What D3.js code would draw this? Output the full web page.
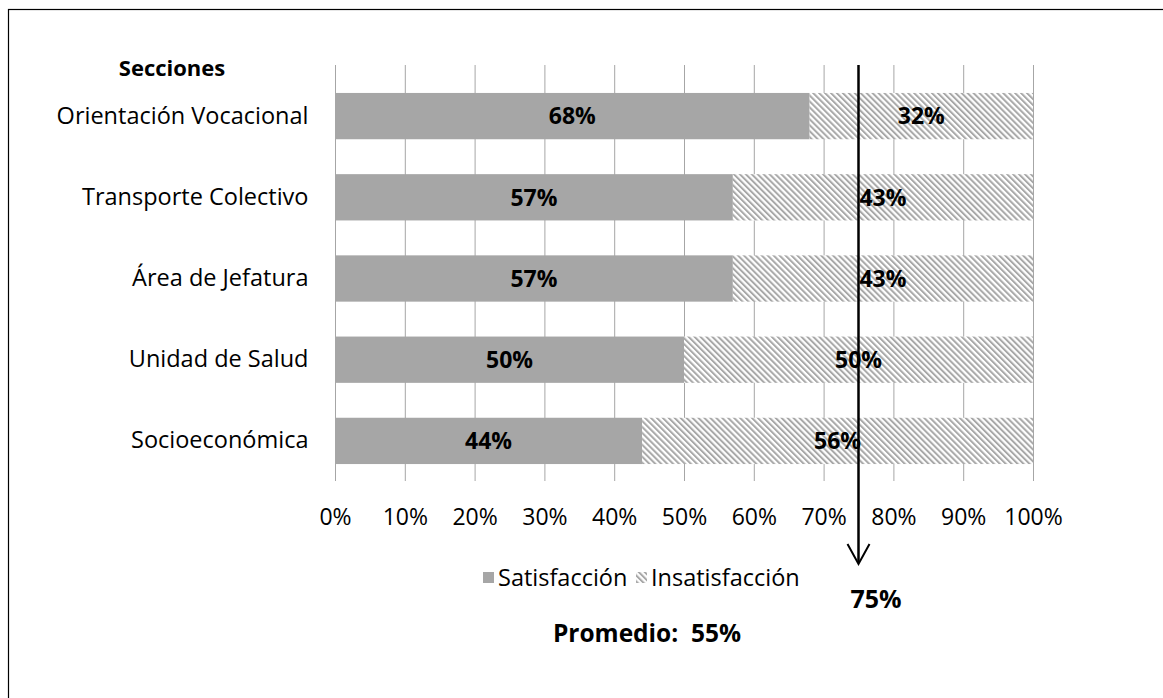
<!DOCTYPE html>
<html><head><meta charset="utf-8">
<script src="https://cdn.jsdelivr.net/npm/d3@7"></script>
<style>body{margin:0;background:#fff}svg{display:block}text{font-family:"Open Sans","Noto Sans",sans-serif;white-space:pre}</style>
</head><body>
<svg id="c" width="1163" height="698"></svg>
<script>
const categories = ["Orientación Vocacional","Transporte Colectivo","Área de Jefatura","Unidad de Salud","Socioeconómica"];
const satisfaccion = [68,57,57,50,44];
const insatisfaccion = [32,43,43,50,56];
const tickValues = [0,10,20,30,40,50,60,70,80,90,100];
const seriesNames = ["Satisfacción","Insatisfacción"];
const axisTitle = "Secciones";
const promedio = "Promedio:  55%";
const meta = 75;

const svg = d3.select("#c");
const defs = svg.append("defs");
const pat = defs.append("pattern").attr("id","hatch").attr("patternUnits","userSpaceOnUse")
  .attr("width",4.2).attr("height",4.2).attr("patternTransform","rotate(-45)");
pat.append("rect").attr("width",4.2).attr("height",4.2).attr("fill","#fff");
pat.append("rect").attr("x",0).attr("width",2).attr("height",4.2).attr("fill","#a8a8a8");

svg.append("rect").attr("x",8.5).attr("y",9.5).attr("width",1200).attr("height",720)
  .attr("fill","none").attr("stroke","#000").attr("stroke-width",1.2);

const x = d3.scaleLinear().domain([0,100]).range([335,1033]);
const y = d3.scaleBand().domain(categories).range([75.5,481.5]).paddingInner(0.43).paddingOuter(0.215);

// gridlines
svg.append("g").selectAll("line").data(tickValues).join("line")
  .attr("x1",d=>x(d)+0.5).attr("x2",d=>x(d)+0.5).attr("y1",65).attr("y2",481)
  .attr("stroke","#a6a6a6").attr("stroke-width",1);

const xAxis = svg.append("g").attr("transform","translate(0,481)")
  .call(d3.axisBottom(x).tickValues(tickValues).tickFormat(d=>d+"%").tickSize(0).tickPadding(28));
xAxis.select(".domain").remove();
xAxis.selectAll("text").attr("font-size",23).attr("fill","#000").attr("font-family","'Open Sans',sans-serif");

const rows = categories.map((c,i)=>({c,s:satisfaccion[i],n:insatisfaccion[i]}));
const g = svg.append("g");
g.selectAll(".s").data(rows).join("rect").attr("class","s")
  .attr("x",x(0)).attr("y",d=>y(d.c)).attr("width",d=>x(d.s)-x(0)).attr("height",y.bandwidth())
  .attr("fill","#a6a6a6");
g.selectAll(".n").data(rows).join("rect").attr("class","n")
  .attr("x",d=>x(d.s)).attr("y",d=>y(d.c)).attr("width",d=>x(d.s+d.n)-x(d.s)).attr("height",y.bandwidth())
  .attr("fill","url(#hatch)");

const yAxis = svg.append("g").attr("transform","translate(335.5,0)")
  .call(d3.axisLeft(y).tickSize(0).tickPadding(27));
yAxis.select(".domain").attr("stroke","#a6a6a6").attr("d","M0,65V481");
yAxis.selectAll("text").attr("font-size",23.5).attr("fill","#000").attr("font-family","'Open Sans',sans-serif");

// arrow
svg.append("line").attr("x1",x(meta)).attr("x2",x(meta)).attr("y1",65).attr("y2",563)
  .attr("stroke","#000").attr("stroke-width",2.5);
svg.append("path").attr("d",`M${x(meta)-11},544 L${x(meta)},564 L${x(meta)+11},544`)
  .attr("fill","none").attr("stroke","#000").attr("stroke-width",2);

// labels
g.selectAll(".ls").data(rows).join("text").attr("class","ls")
  .attr("x",d=>x(d.s/2)).attr("y",d=>y(d.c)+y.bandwidth()/2).attr("dy","0.36em")
  .attr("text-anchor","middle").attr("font-weight","bold").attr("font-size",23).text(d=>d.s+"%");
g.selectAll(".ln").data(rows).join("text").attr("class","ln")
  .attr("x",d=>x(d.s+d.n/2)).attr("y",d=>y(d.c)+y.bandwidth()/2).attr("dy","0.36em")
  .attr("text-anchor","middle").attr("font-weight","bold").attr("font-size",23).text(d=>d.n+"%");

svg.append("text").attr("x",172).attr("y",76).attr("text-anchor","middle").attr("font-weight","bold")
  .attr("font-size",22).text(axisTitle);

svg.append("text").attr("x",876).attr("y",608).attr("text-anchor","middle").attr("font-weight","bold")
  .attr("font-size",25).text(meta+"%");

// legend
const leg = svg.append("g");
leg.append("rect").attr("x",483).attr("y",572).attr("width",11).attr("height",11).attr("fill","#a6a6a6");
leg.append("text").attr("x",498).attr("y",586).attr("font-size",23.5).text(seriesNames[0]);
leg.append("rect").attr("x",636).attr("y",572).attr("width",11).attr("height",11).attr("fill","url(#hatch)");
leg.append("text").attr("x",651).attr("y",586).attr("font-size",23.5).text(seriesNames[1]);

svg.append("text").attr("x",647).attr("y",642).attr("text-anchor","middle").attr("font-weight","bold")
  .attr("font-size",24.5).text(promedio);
</script>
</body></html>
